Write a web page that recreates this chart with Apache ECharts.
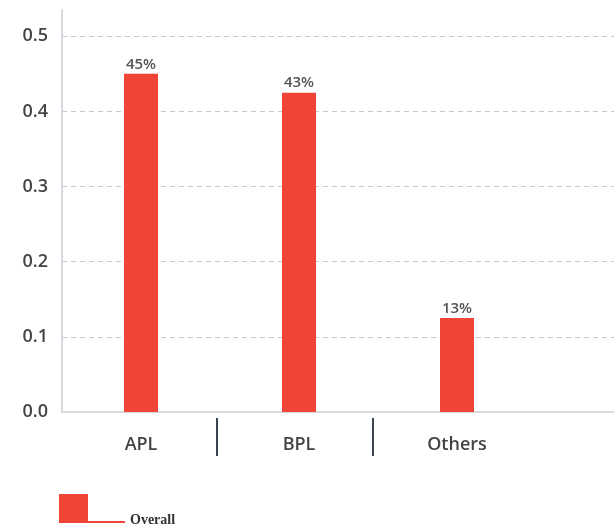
<!DOCTYPE html>
<html>
<head>
<meta charset="utf-8">
<script src="https://cdn.jsdelivr.net/npm/echarts@6/dist/echarts.min.js"></script>
<style>
  html, body { margin: 0; padding: 0; background: #fff; }
  #chart { width: 614px; height: 530px; }
</style>
</head>
<body>
<div id="chart"></div>
<script>
const categories = ["APL", "BPL", "Others"];
const overall = [0.45, 0.425, 0.125];
const barLabels = ["45%", "43%", "13%"];
const yTicks = [0, 0.1, 0.2, 0.3, 0.4, 0.5];

const chart = echarts.init(document.getElementById("chart"));
const option = {
  animation: false,
  grid: [
    { left: 62, top: 10, height: 402, width: 632, outerBoundsMode: "none" },
    // separators sit a few px left of the band edges in the original
    { left: 61, top: 10, height: 402, width: 624, outerBoundsMode: "none" }
  ],
  legend: {
    left: 59,
    top: 494,
    padding: 0,
    itemWidth: 66,
    itemHeight: 29,
    itemGap: 4,
    icon: "path://M0,0 H29 V29 H0 Z M29,27 H66 V29 H29 Z",
    formatter: name => "{t|" + name + "}",
    textStyle: {
      rich: {
        t: {
          fontFamily: "Liberation Serif",
          fontWeight: "bold",
          fontSize: 14,
          color: "#333",
          padding: [24, 0, 0, 0]
        }
      }
    },
    data: ["Overall"]
  },
  xAxis: [
    {
      type: "category",
      gridIndex: 0,
      data: categories,
      max: 3,
      axisLine: { lineStyle: { color: "#d8d8e0", width: 2 } },
      axisTick: { show: false },
      axisLabel: {
        margin: 24,
        fontFamily: "Open Sans",
        fontSize: 18,
        fontWeight: 600,
        color: "#444",
        formatter: v => v || ""
      }
    },
    {
      type: "category",
      gridIndex: 1,
      data: categories,
      max: 3,
      position: "bottom",
      offset: 6,
      axisLine: { show: false, onZero: false },
      axisLabel: { show: false },
      axisTick: {
        show: true,
        length: 38,
        interval: (i) => i === 1 || i === 2,
        lineStyle: { color: "#3c4650", width: 2 }
      }
    }
  ],
  yAxis: [
    {
      type: "value",
      gridIndex: 0,
      min: yTicks[0],
      max: 0.535,
      interval: 0.1,
      axisLine: { show: true, lineStyle: { color: "#d8d8e0", width: 2 } },
      axisTick: { show: false },
      axisLabel: {
        margin: 14,
        showMaxLabel: false,
        fontFamily: "Open Sans",
        fontSize: 18,
        fontWeight: 600,
        color: "#444",
        formatter: v => v.toFixed(1)
      },
      splitLine: {
        show: true,
        showMinLine: false,
        showMaxLine: false,
        lineStyle: { color: "#c8c8d4", type: [5, 4], width: 1 }
      }
    },
    {
      type: "value",
      gridIndex: 1,
      show: false
    }
  ],
  series: [
    {
      name: "Overall",
      type: "bar",
      xAxisIndex: 0,
      yAxisIndex: 0,
      data: overall,
      barWidth: 34,
      itemStyle: { color: "#f04437" },
      label: {
        show: true,
        position: "top",
        distance: 2,
        fontFamily: "Open Sans",
        fontSize: 15,
        fontWeight: 600,
        color: "#555",
        formatter: p => barLabels[p.dataIndex]
      }
    }
  ]
};
chart.setOption(option);
</script>
</body>
</html>
